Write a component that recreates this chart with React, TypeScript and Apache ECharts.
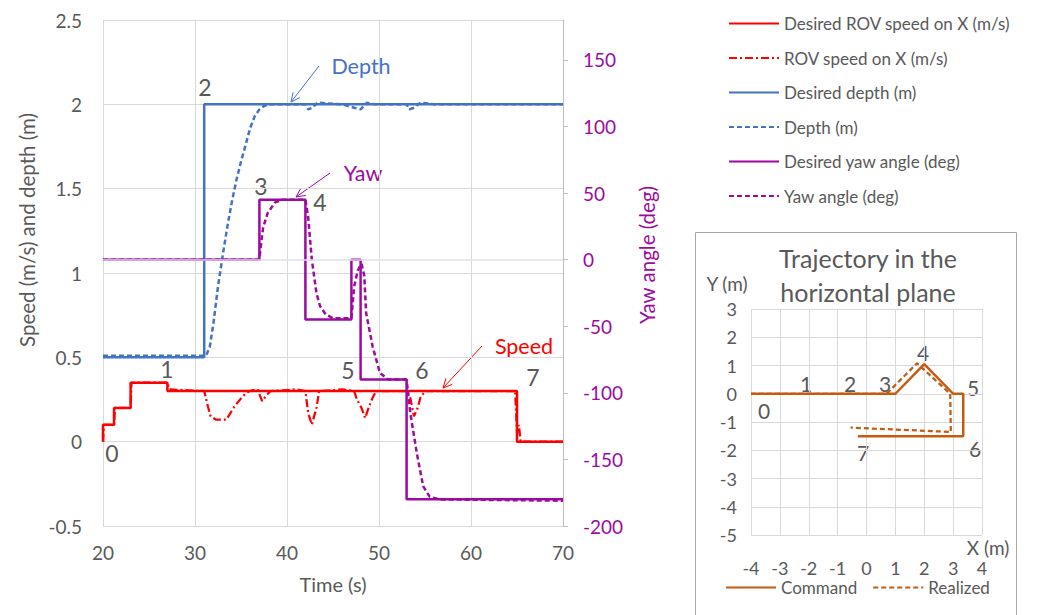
import React, { useEffect, useRef } from "react";
import * as echarts from "echarts";

const FONT = "Lato, 'Open Sans', sans-serif";
const GREY = "#595959";
const RED = "#FF0000";
const BLUE = "#4472C4";
const PURPLE = "#9C0AA0";
const ORANGE = "#C55A11";
const GRID = "#d9d9d9";

// ---- main chart data: [time (s), value] ----
const desiredSpeed = [[20, 0], [20, 0.1], [21.2, 0.1], [21.2, 0.2], [23, 0.2], [23, 0.35], [27, 0.35], [27, 0.3], [65, 0.3], [65, 0], [70, 0]];
const measSpeed = [[20, 0], [20.1, 0.1], [21.2, 0.1], [21.3, 0.2], [23, 0.2], [23.1, 0.35], [27, 0.35], [27.2, 0.31], [31, 0.3], [31.4, 0.21], [31.7, 0.15], [32.3, 0.13], [33.4, 0.13], [34.3, 0.21], [35.2, 0.27], [35.9, 0.3], [36.8, 0.31], [37.3, 0.24], [37.7, 0.27], [38.2, 0.3], [41, 0.31], [42, 0.3], [42.3, 0.17], [42.7, 0.1], [43.2, 0.2], [43.5, 0.3], [46, 0.31], [47.3, 0.3], [47.6, 0.25], [48.1, 0.2], [48.5, 0.14], [48.8, 0.19], [49.3, 0.26], [49.7, 0.3], [53, 0.3], [53.4, 0.26], [53.8, 0.15], [54.2, 0.2], [54.5, 0.26], [55, 0.3], [64.8, 0.3], [65, 0.05], [65.2, 0.1], [65.4, 0], [70, 0]];
const desiredDepth = [[20, 0.5], [31, 0.5], [31, 2.0], [70, 2.0]];
const measDepth = [[20, 0.51], [31.2, 0.51], [31.6, 0.56], [32, 0.7], [32.5, 0.92], [33, 1.1], [33.5, 1.27], [34, 1.42], [34.5, 1.55], [35, 1.66], [35.5, 1.76], [36, 1.86], [36.5, 1.93], [37, 1.97], [37.5, 1.99], [38, 2.0], [42, 2.0], [42.3, 1.97], [42.8, 1.98], [43.3, 2.01], [46, 2.0], [47.3, 1.98], [48, 1.97], [48.7, 2.01], [49.5, 2.0], [53, 2.0], [53.3, 1.97], [53.8, 1.98], [54.5, 2.01], [56, 2.0], [70, 2.0]];
const desiredYaw = [[20, 0], [37, 0], [37, 45], [42, 45], [42, -45], [47, -45], [47, 0], [48, 0], [48, -90], [53, -90], [53, -180], [70, -180]];
const measYaw = [[20, 0], [37, 0], [37.1, 7], [37.4, 24], [37.9, 35], [38.7, 43], [39.5, 45], [42, 45], [42.3, 32], [42.7, 0], [43.2, -25], [43.6, -35], [44.2, -41], [45, -44], [47, -44], [47.3, -20], [47.7, -8], [48.1, -3], [48.4, -12], [48.6, -40], [49.3, -65], [50.1, -85], [51, -90], [53, -90], [53.4, -115], [54.1, -145], [54.8, -170], [55.5, -178], [56.5, -180], [70, -181]];

// ---- trajectory data: [x (m), y (m)] ----
const commandTraj = [[-4, 0], [1, 0], [2, 1.05], [3, 0], [3.35, 0], [3.35, -1.5], [-0.3, -1.5]];
const realizedTraj = [[-4, 0], [0.7, 0], [1.75, 1.08], [2.9, 0], [2.92, -1.35], [-0.55, -1.2]];

const legendMain = ["Desired ROV speed on X (m/s)", "ROV speed on X (m/s)", "Desired depth (m)", "Depth (m)", "Desired yaw angle (deg)", "Yaw angle (deg)"];
const legendTraj = ["Command", "Realized"];

function arrow(x1: number, y1: number, x2: number, y2: number, color: string) {
  const ang = Math.atan2(y2 - y1, x2 - x1);
  const L = 10, W = Math.PI / 7;
  const p1 = [x2 - L * Math.cos(ang - W), y2 - L * Math.sin(ang - W)];
  const p2 = [x2 - L * Math.cos(ang + W), y2 - L * Math.sin(ang + W)];
  return [
    { type: "line", shape: { x1, y1, x2, y2 }, style: { stroke: color, lineWidth: 1 } },
    { type: "polyline", shape: { points: [p1, [x2, y2], p2] }, style: { stroke: color, lineWidth: 1, fill: null } },
  ];
}

function txt(x: number, y: number, text: string, size: number, color: string, extra: any = {}) {
  return {
    type: "text",
    x, y,
    style: { text, fill: color, font: `${size}px ${FONT}`, align: "center", verticalAlign: "middle" },
    ...extra,
  };
}

export default function App() {
  const ref = useRef<HTMLDivElement>(null);
  useEffect(() => {
    const chart = echarts.init(ref.current!, null, { renderer: "svg" });
    const line = (name: string, data: any, color: string, type: any, width: number, xi: number, yi: number, z: number) => ({
      name, type: "line", data, xAxisIndex: xi, yAxisIndex: yi, showSymbol: false, symbol: "none", z,
      lineStyle: { color, type, width }, itemStyle: { color },
    });
    chart.setOption({
      animation: false,
      textStyle: { fontFamily: FONT },
      grid: [
        { left: 103, top: 20, width: 460, height: 506 },
        { left: 751, top: 309, width: 231, height: 226 },
      ],
      legend: [
        {
          data: legendMain, orient: "vertical", left: 728, top: 15, padding: 0, itemWidth: 50, itemHeight: 14, itemGap: 17.5,
          itemStyle: { opacity: 0 },
          textStyle: { color: GREY, fontSize: 17, fontFamily: FONT },
        },
        {
          data: legendTraj, orient: "horizontal", left: 725, top: 579, padding: 0, itemWidth: 50, itemHeight: 14, itemGap: 15,
          itemStyle: { opacity: 0 },
          textStyle: { color: GREY, fontSize: 17, fontFamily: FONT },
        },
      ],
      xAxis: [
        {
          type: "value", gridIndex: 0, min: 20, max: 70, interval: 10,
          axisLine: { show: false }, axisTick: { show: false },
          splitLine: { show: true, lineStyle: { color: GRID, width: 1 } },
          axisLabel: { color: GREY, fontSize: 19, margin: 17, fontFamily: FONT },
          name: "Time (s)", nameLocation: "middle", nameGap: 48,
          nameTextStyle: { color: GREY, fontSize: 20, fontFamily: FONT },
        },
        {
          type: "value", gridIndex: 1, min: -4, max: 4, interval: 1,
          axisLine: { show: false }, axisTick: { show: false },
          splitLine: { show: true, lineStyle: { color: GRID, width: 1 } },
          axisLabel: { color: GREY, fontSize: 18, margin: 24, fontFamily: FONT },
        },
      ],
      yAxis: [
        {
          type: "value", gridIndex: 0, min: -0.5, max: 2.5, interval: 0.5,
          axisLine: { show: false }, axisTick: { show: false },
          splitLine: { show: true, lineStyle: { color: GRID, width: 1 } },
          axisLabel: { color: GREY, fontSize: 19, margin: 21, fontFamily: FONT },
        },
        {
          type: "value", gridIndex: 0, position: "right", min: -200, max: 180, interval: 50,
          axisLine: { show: true, lineStyle: { color: "#bfbfbf", width: 1 } },
          axisTick: { show: true, length: 5, lineStyle: { color: "#bfbfbf" } },
          splitLine: { show: false },
          axisLabel: { color: PURPLE, fontSize: 19, margin: 20, showMaxLabel: false, fontFamily: FONT },
        },
        {
          type: "value", gridIndex: 1, min: -5, max: 3, interval: 1,
          axisLine: { show: false }, axisTick: { show: false },
          splitLine: { show: true, lineStyle: { color: GRID, width: 1 } },
          axisLabel: { color: GREY, fontSize: 18, margin: 14, fontFamily: FONT },
        },
      ],
      series: [
        {
          name: "yawZero", type: "line", data: [], xAxisIndex: 0, yAxisIndex: 1, z: 1,
          markLine: {
            silent: true, symbol: "none", label: { show: false },
            lineStyle: { color: "#e2ddf0", width: 1.5, type: "solid" },
            data: [{ yAxis: 0 }],
          },
        },
        line(legendMain[0], desiredSpeed, RED, "solid", 2.5, 0, 0, 3),
        line(legendMain[1], measSpeed, RED, [8, 3, 2, 3], 2.25, 0, 0, 3),
        line(legendMain[2], desiredDepth, BLUE, "solid", 2.5, 0, 0, 3),
        line(legendMain[3], measDepth, BLUE, [5, 3], 2.5, 0, 0, 2),
        line(legendMain[4], desiredYaw, PURPLE, "solid", 2.5, 0, 1, 4),
        line(legendMain[5], measYaw, PURPLE, [5, 3], 2.5, 0, 1, 4),
        line(legendTraj[0], commandTraj, ORANGE, "solid", 2.5, 1, 2, 3),
        line(legendTraj[1], realizedTraj, ORANGE, [5, 3], 2.25, 1, 2, 3),
      ],
      graphic: [
        txt(27, 230, "Speed (m/s) and depth (m)", 20.5, GREY, { rotation: Math.PI / 2 }),
        txt(647, 255, "Yaw angle (deg)", 20.5, PURPLE, { rotation: Math.PI / 2 }),
        // main annotations
        txt(361, 66, "Depth", 21.5, BLUE),
        txt(363, 173, "Yaw", 21.5, PURPLE),
        txt(524, 346, "Speed", 21.5, RED),
        ...arrow(319, 66, 291, 102, BLUE),
        ...arrow(330, 173, 296, 197, PURPLE),
        ...arrow(482, 346, 443, 388, RED),
        txt(112, 453, "0", 23, GREY),
        txt(167, 369, "1", 23, GREY),
        txt(205, 87, "2", 23, GREY),
        txt(261, 186, "3", 23, GREY),
        txt(320, 202, "4", 23, GREY),
        txt(348, 370, "5", 23, GREY),
        txt(422, 370, "6", 23, GREY),
        txt(533, 377, "7", 23, GREY),
        // inset
        { type: "rect", shape: { x: 695.5, y: 232.5, width: 321, height: 400 }, style: { stroke: "#a6a6a6", lineWidth: 1, fill: null }, z: -1 },
        txt(868, 258, "Trajectory in the", 25, GREY),
        txt(868, 292, "horizontal plane", 25, GREY),
        txt(727, 283, "Y (m)", 19, GREY),
        txt(988, 547, "X (m)", 19, GREY),
        txt(764, 410, "0", 21, GREY),
        txt(806, 383, "1", 21, GREY),
        txt(850, 383, "2", 21, GREY),
        txt(885, 383, "3", 21, GREY),
        txt(923, 352, "4", 21, GREY),
        txt(973, 387, "5", 21, GREY),
        txt(975, 448, "6", 21, GREY),
        txt(863, 452, "7", 21, GREY),
      ],
    });
    return () => chart.dispose();
  }, []);
  return <div ref={ref} style={{ position: "fixed", left: 0, top: 0, width: 1049, height: 615, background: "#fff" }} />;
}
